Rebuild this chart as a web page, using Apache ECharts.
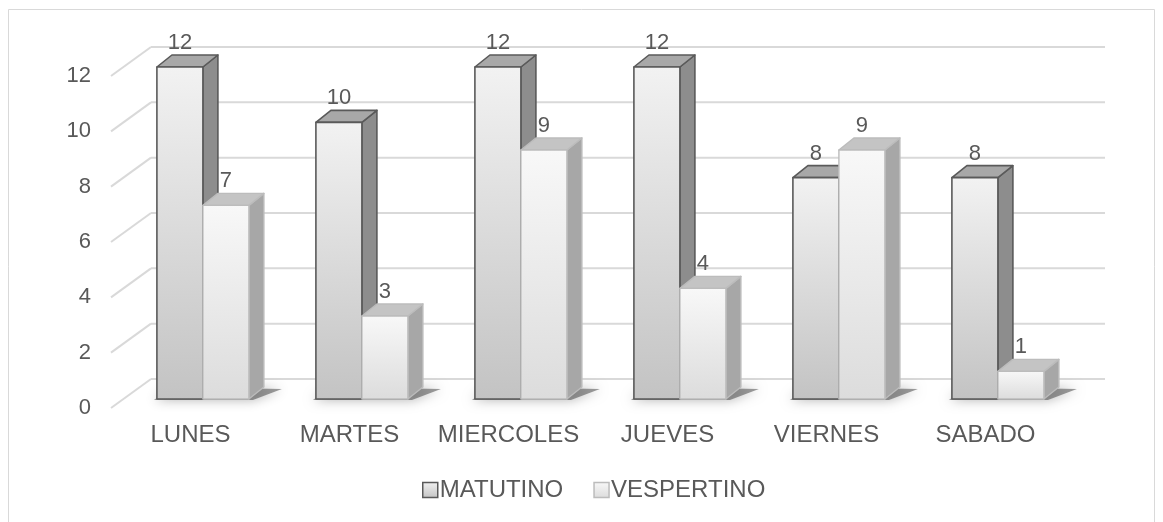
<!DOCTYPE html>
<html>
<head>
<meta charset="utf-8">
<script src="https://cdn.jsdelivr.net/npm/echarts@6/dist/echarts.min.js"></script>
<style>
  html, body { margin: 0; padding: 0; background: #ffffff; }
  #chart { width: 1163px; height: 522px; }
</style>
</head>
<body>
<div id="chart"></div>
<script>
// Turnos por día
const days = ['LUNES', 'MARTES', 'MIERCOLES', 'JUEVES', 'VIERNES', 'SABADO'];
const matutino = [12, 10, 12, 12, 8, 8];
const vespertino = [7, 3, 9, 4, 9, 1];
const yTicks = [0, 2, 4, 6, 8, 10, 12];

// Oblique projection: the grid is the front edge of the floor,
// DEPTH goes from it to the back wall.
const DEPTH = [40, -29];
const BAR_FRONT = [12.4, -9];   // front plane of the bars
const BAR_DEPTH = [15, -12];    // thickness of each bar
const BAR_SHARE = 46 / 159;     // bar width as a share of the category band

const FONT = '"Liberation Sans", Arial, sans-serif';
const TEXT = '#595959';

const looks = {
  MATUTINO:   { front: ['#f2f2f2', '#c3c3c3'], side: '#8d8d8d', top: '#a8a8a8', line: '#5a5a5a', lw: 1.6 },
  VESPERTINO: { front: ['#f8f8f8', '#dcdcdc'], side: '#a7a7a7', top: '#c4c4c4', line: '#bcbcbc', lw: 1.4 }
};

function vgrad(c) {
  return new echarts.graphic.LinearGradient(0, 0, 0, 1, [
    { offset: 0, color: c[0] }, { offset: 1, color: c[1] }
  ]);
}

function boxRenderer(name, slot) {
  const lk = looks[name];
  return function (params, api) {
    const i = api.value(0);
    const v = api.value(1);
    const base = api.coord([i, 0]);
    const tip = api.coord([i, v]);
    const band = api.size([1, 0])[0];
    const w = band * BAR_SHARE;
    const x0 = base[0] - w + slot * w + BAR_FRONT[0];
    const x1 = x0 + w;
    const yb = base[1] + BAR_FRONT[1];
    const yt = tip[1] + BAR_FRONT[1];
    const dx = BAR_DEPTH[0], dy = BAR_DEPTH[1];
    const children = [];
    if (slot === 0) {
      // soft shadow on the floor under the pair of bars
      children.push({
        type: 'polygon', silent: true,
        shape: { points: [[x0 - 3, yb + 1], [x0 + 2 * w + 4, yb + 1],
                          [x0 + 2 * w + dx + 18, yb + dy + 2], [x0 + dx, yb + dy]] },
        style: { fill: 'rgba(60,60,60,0.5)', shadowBlur: 12, shadowColor: 'rgba(0,0,0,0.6)' }
      });
    }
    const stroke = { stroke: lk.line, lineWidth: lk.lw, lineJoin: 'round' };
    children.push({
      type: 'polygon',
      shape: { points: [[x1, yt], [x1 + dx, yt + dy], [x1 + dx, yb + dy], [x1, yb]] },
      style: Object.assign({ fill: lk.side }, stroke)
    });
    children.push({
      type: 'polygon',
      shape: { points: [[x0, yt], [x1, yt], [x1 + dx, yt + dy], [x0 + dx, yt + dy]] },
      style: Object.assign({ fill: lk.top }, stroke)
    });
    children.push({
      type: 'rect',
      shape: { x: x0, y: yt, width: w, height: yb - yt },
      style: Object.assign({ fill: vgrad(lk.front) }, stroke)
    });
    children.push({
      type: 'text', silent: true,
      style: {
        x: x0 + w / 2, y: yt + dy - 12, text: String(v),
        align: 'center', verticalAlign: 'middle',
        fill: TEXT, font: '22px ' + FONT
      }
    });
    return { type: 'group', children: children };
  };
}

function wallRenderer(params, api) {
  const v = api.value(1);
  const cs = params.coordSys;
  const y = api.coord([0, v])[1];
  const left = cs.x, right = cs.x + cs.width;
  const line = { stroke: '#d9d9d9', lineWidth: 2 };
  return {
    type: 'group', silent: true,
    children: [
      { type: 'line', shape: { x1: left, y1: y, x2: left + DEPTH[0], y2: y + DEPTH[1] }, style: line },
      { type: 'line', shape: { x1: left + DEPTH[0], y1: y + DEPTH[1], x2: right + DEPTH[0], y2: y + DEPTH[1] }, style: line }
    ]
  };
}

const chart = echarts.init(document.getElementById('chart'), null, { renderer: 'canvas' });

chart.setOption({
  animation: false,
  backgroundColor: '#ffffff',
  textStyle: { fontFamily: FONT },
  graphic: [{
    type: 'rect', silent: true, z: -10,
    shape: { x: 8.5, y: 9.5, width: 1146, height: 540 },
    style: { fill: 'none', stroke: '#d9d9d9', lineWidth: 1 }
  }],
  grid: { left: 111, right: 98, top: 76, bottom: 114 },
  xAxis: {
    type: 'category', data: days,
    axisLine: { show: false }, axisTick: { show: false },
    axisLabel: { interval: 0, color: TEXT, fontSize: 24, fontFamily: FONT, margin: 15 }
  },
  yAxis: {
    type: 'value', min: 0, max: 12, interval: 2,
    axisLine: { show: false }, axisTick: { show: false },
    splitLine: { show: false },
    axisLabel: { color: TEXT, fontSize: 22, fontFamily: FONT, margin: 20 }
  },
  legend: {
    left: 422, top: 478, padding: 0,
    itemWidth: 15, itemHeight: 15, itemGap: 30,
    textStyle: { color: TEXT, fontSize: 24, fontFamily: FONT, padding: [0, 0, 0, -3] },
    data: [
      { name: 'MATUTINO', icon: 'rect',
        itemStyle: { color: vgrad(looks.MATUTINO.front), borderColor: looks.MATUTINO.line, borderWidth: 1.5 } },
      { name: 'VESPERTINO', icon: 'rect',
        itemStyle: { color: vgrad(looks.VESPERTINO.front), borderColor: looks.VESPERTINO.line, borderWidth: 1.5 } }
    ]
  },
  series: [
    {
      type: 'custom', name: 'wall', z: 1, silent: true,
      renderItem: wallRenderer,
      data: yTicks.map(function (t) { return [0, t]; })
    },
    {
      type: 'custom', name: 'MATUTINO', z: 2,
      itemStyle: { color: '#c3c3c3' },
      renderItem: boxRenderer('MATUTINO', 0),
      data: matutino.map(function (v, i) { return [i, v]; })
    },
    {
      type: 'custom', name: 'VESPERTINO', z: 3,
      itemStyle: { color: '#dcdcdc' },
      renderItem: boxRenderer('VESPERTINO', 1),
      data: vespertino.map(function (v, i) { return [i, v]; })
    }
  ]
});
</script>
</body>
</html>
